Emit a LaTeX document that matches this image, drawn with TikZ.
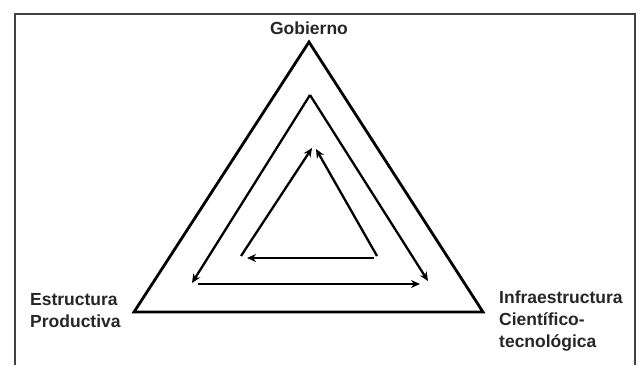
\documentclass[tikz,border=0pt]{standalone}
\usepackage{fontspec}
\setmainfont{Liberation Sans}
\usetikzlibrary{arrows.meta}
\begin{document}
\begin{tikzpicture}[x=1pt,y=-1pt,
  tri/.style={line width=2.8pt,line join=miter},
  arr/.style={line width=2.3pt,-{Stealth[length=9pt,width=8pt]}},
  lab/.style={font=\bfseries\fontsize{17.5}{22}\selectfont,text=black!85,inner sep=0pt,align=left}]
\useasboundingbox (0,0) rectangle (638,365);
% frame
\draw[line width=1.4pt,black!75] (15,365) -- (15,14) -- (635,14) -- (635,365);
% outer triangle
\coordinate (oA) at (309,42);
\coordinate (oL) at (134,312);
\coordinate (oR) at (483,312);
\draw[tri] (oA) -- (oL) -- (oR) -- cycle;
% middle
\coordinate (mA) at (310,95);
\coordinate (mL) at (192,283);
\coordinate (mR) at (428,281);
\coordinate (mbL) at (198,284);
\coordinate (mbR) at (420,284);
\draw[arr] (mA) -- (mL);
\draw[arr] (mA) -- (mR);
\draw[arr] (mbL) -- (mbR);
% inner
\coordinate (iA1) at (312,148);
\coordinate (iA2) at (316,149);
\coordinate (iL) at (241,256);
\coordinate (iR) at (377,256);
\coordinate (ibR) at (374,258);
\coordinate (ibL) at (247,258);
\draw[arr] (iL) -- (iA1);
\draw[arr] (iR) -- (iA2);
\draw[arr] (ibR) -- (ibL);
% labels
\node[lab,anchor=base] (gob) at (309,34) {Gobierno};
\node[lab,anchor=base west] (est) at (30,327) {Estructura\\Productiva};
\node[lab,anchor=base west] (inf) at (499,347) {Infraestructura\\Científico-\\tecnológica};
\end{tikzpicture}
\end{document}
